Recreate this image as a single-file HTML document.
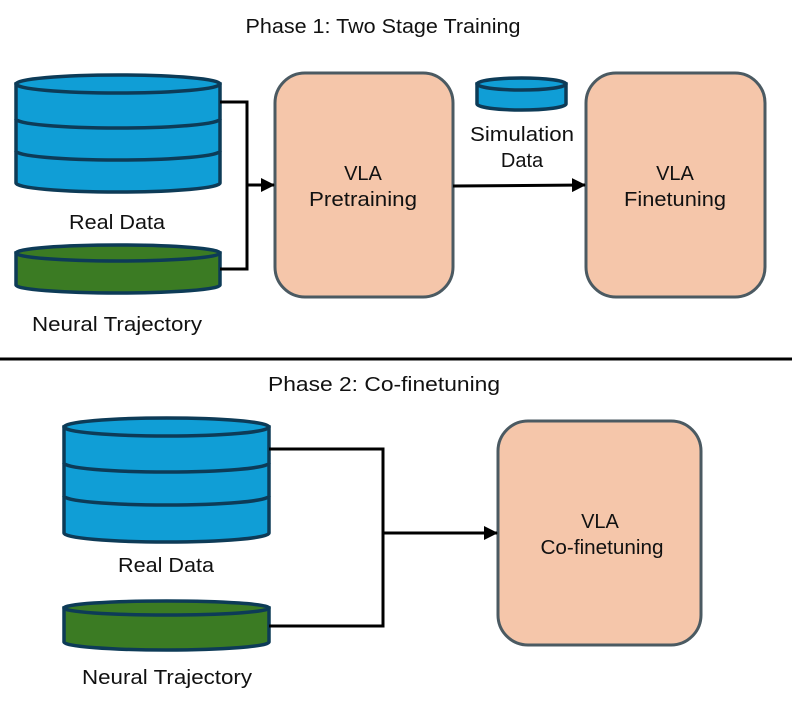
<!DOCTYPE html>
<html><head><meta charset="utf-8"><style>
html,body{margin:0;padding:0;background:#fff;}
svg{display:block;}
text{font-family:"Liberation Sans",sans-serif;fill:#111;}
</style></head><body>
<svg width="797" height="703" viewBox="0 0 797 703" xmlns="http://www.w3.org/2000/svg">
<defs>
<marker id="ah" markerWidth="14" markerHeight="14" refX="13" refY="7" orient="auto" markerUnits="userSpaceOnUse">
<path d="M0,0 L14,7 L0,14 Z" fill="#000"/>
</marker>
</defs>
<g stroke="#0d3b57" stroke-width="3.5">
<path d="M16,84 L16,183 A102,9 0 0 0 220,183 L220,84 Z" fill="#109ed6"/>
<ellipse cx="118" cy="84" rx="102" ry="9" fill="#109ed6"/>
<path d="M16,119 A102,9 0 0 0 220,119" fill="none"/>
<path d="M16,151 A102,9 0 0 0 220,151" fill="none"/>
<path d="M16,253 L16,285 A102,8 0 0 0 220,285 L220,253 Z" fill="#3b7b23"/>
<ellipse cx="118" cy="253" rx="102" ry="8" fill="#3b7b23"/>
<path d="M477,84 L477,104 A44.5,6 0 0 0 566,104 L566,84 Z" fill="#109ed6"/>
<ellipse cx="521.5" cy="84" rx="44.5" ry="6" fill="#109ed6"/>
<path d="M64,427 L64,533 A102,9 0 0 0 269,533 L269,427 Z" fill="#109ed6"/>
<ellipse cx="166.5" cy="427" rx="102.5" ry="9" fill="#109ed6"/>
<path d="M64,463 A102.5,9 0 0 0 269,463" fill="none"/>
<path d="M64,496 A102.5,9 0 0 0 269,496" fill="none"/>
<path d="M64,608 L64,642 A102.5,8 0 0 0 269,642 L269,608 Z" fill="#3b7b23"/>
<ellipse cx="166.5" cy="608" rx="102.5" ry="7" fill="#3b7b23"/>
</g>
<g fill="#f5c6aa" stroke="#4b5a62" stroke-width="3">
<rect x="275" y="73" width="178" height="224" rx="30"/>
<rect x="586" y="73" width="179" height="224" rx="30"/>
<rect x="498" y="421" width="203" height="224" rx="30"/>
</g>
<g stroke="#000" stroke-width="3" fill="none">
<path d="M220,102 H247 V269 H220"/>
<path d="M247,185 H274" marker-end="url(#ah)"/>
<path d="M453,186 L585,185" marker-end="url(#ah)"/>
<path d="M269,449 H383 V626 H269"/>
<path d="M383,533 H497" marker-end="url(#ah)"/>
<path d="M0,359 H792"/>
</g>
<g font-size="20" text-anchor="middle" lengthAdjust="spacingAndGlyphs">
<text x="383" y="33" textLength="275" lengthAdjust="spacingAndGlyphs">Phase 1: Two Stage Training</text>
<text x="117" y="229" textLength="96" lengthAdjust="spacingAndGlyphs">Real Data</text>
<text x="117" y="331" textLength="170" lengthAdjust="spacingAndGlyphs">Neural Trajectory</text>
<text x="522" y="141" textLength="104" lengthAdjust="spacingAndGlyphs">Simulation</text>
<text x="522" y="167">Data</text>
<text x="363" y="180">VLA</text>
<text x="363" y="206" textLength="108" lengthAdjust="spacingAndGlyphs">Pretraining</text>
<text x="675" y="180">VLA</text>
<text x="675" y="206" textLength="102" lengthAdjust="spacingAndGlyphs">Finetuning</text>
<text x="384" y="391" textLength="232" lengthAdjust="spacingAndGlyphs">Phase 2: Co-finetuning</text>
<text x="166" y="572" textLength="96" lengthAdjust="spacingAndGlyphs">Real Data</text>
<text x="167" y="684" textLength="170" lengthAdjust="spacingAndGlyphs">Neural Trajectory</text>
<text x="600" y="528">VLA</text>
<text x="602" y="554" textLength="123" lengthAdjust="spacingAndGlyphs">Co-finetuning</text>
</g>
</svg>
</body></html>
